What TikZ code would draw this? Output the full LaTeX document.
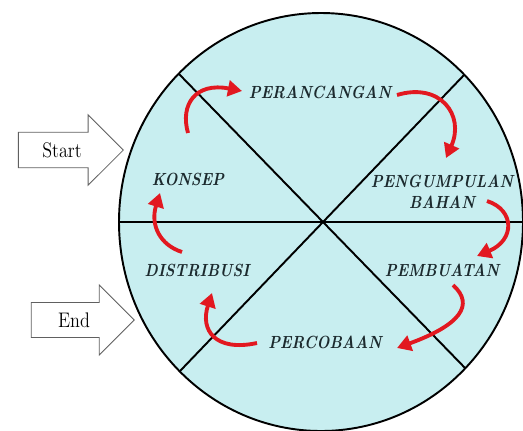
\documentclass[tikz,border=0pt]{standalone}
\usetikzlibrary{arrows.meta,shapes.arrows}

\definecolor{wheelfill}{RGB}{200,238,240}
\definecolor{labeltext}{RGB}{28,42,46}
\definecolor{cyclered}{RGB}{226,24,32}
\newcommand{\squeeze}[1]{\scalebox{0.86}[1]{#1}}

\begin{document}
\begin{tikzpicture}[x=0.02cm, y=-0.02cm,
  stage/.style={font=\fontsize{10}{12}\selectfont\bfseries\itshape, text=labeltext, align=center, inner sep=1pt},
  pointer/.style={single arrow, draw=gray!75!black, fill=white, line width=0.5pt, single arrow head extend=0.35cm, minimum height=2.1cm, inner ysep=5.5pt, font=\fontsize{12}{13}\selectfont},
  cycle/.style={-{Triangle[length=8pt,width=9pt]}, line width=2.2pt, draw=cyclered},
  divider/.style={line width=1.1pt, draw=black}
]
\useasboundingbox (0,0) rectangle (523,430);

% the wheel
\fill[wheelfill] (321,222) ellipse [x radius=202, y radius=209];
\begin{scope}
  \clip (321,222) ellipse [x radius=202, y radius=209];
  \draw[divider] (100,222) -- (540,222);
  \draw[divider] (107,0) -- (539,444);
  \draw[divider] (536,0) -- (110,444);
\end{scope}
\draw[divider] (321,222) ellipse [x radius=202, y radius=209];

% stages
\node[stage] (konsep) at (188,179) {\squeeze{KONSEP}};
\node[stage] (perancangan) at (320,92) {\squeeze{PERANCANGAN}};
\node[stage] (pengumpulan) at (442,192) {\squeeze{PENGUMPULAN}\\\squeeze{BAHAN}};
\node[stage] (pembuatan) at (442,270) {\squeeze{PEMBUATAN}};
\node[stage] (percobaan) at (325,342) {\squeeze{PERCOBAAN}};
\node[stage] (distribusi) at (197,270) {\squeeze{DISTRIBUSI}};

% start / end
\node[pointer] (start) at (62,150) {\squeeze{Start}};
\node[pointer, minimum height=2.06cm] (end) at (74,320) {\squeeze{End}};

% cycle arrows
\draw[cycle] ([shift={(0,-46)}]konsep.center) .. controls +(-8,-28) and +(-47,-9) .. ([shift={(-78,-1)}]perancangan.center);
\draw[cycle] ([shift={(77,3)}]perancangan.center) .. controls +(43,-13) and +(19,-43) .. ([shift={(4,-34)}]pengumpulan.center);
\draw[cycle] ([shift={(45,9)}]pengumpulan.center) .. controls +(28,9) and +(38,-16) .. ([shift={(35,-14)}]pembuatan.center);
\draw[cycle] ([shift={(11,15)}]pembuatan.center) .. controls +(22,20) and +(63,-23) .. ([shift={(72,6)}]percobaan.center);
\draw[cycle] ([shift={(-68,1)}]percobaan.center) .. controls +(-42,9) and +(-12,37) .. ([shift={(15,23)}]distribusi.center);
\draw[cycle] ([shift={(-15,-18)}]distribusi.center) .. controls +(-22,-7) and +(-10,32) .. ([shift={(-28,14)}]konsep.center);
\end{tikzpicture}
\end{document}
